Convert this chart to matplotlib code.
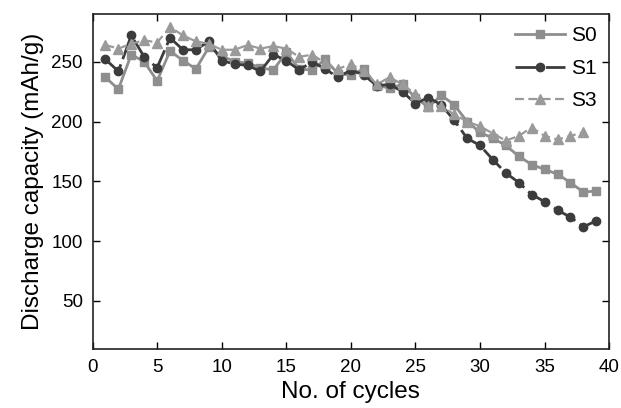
import matplotlib.pyplot as plt

cycles = list(range(1, 40))
cycles_s3 = list(range(1, 39))

s0 = [237, 227, 256, 250, 234, 259, 251, 244, 262, 255,
      250, 249, 245, 243, 258, 244, 243, 252, 240, 239,
      244, 230, 228, 231, 220, 212, 222, 214, 200, 191,
      186, 180, 171, 164, 160, 156, 149, 141, 142]
s1 = [252, 242, 272, 254, 245, 270, 260, 260, 267, 251,
      248, 247, 242, 256, 251, 243, 250, 244, 237, 243,
      239, 230, 231, 225, 215, 220, 214, 201, 186, 180,
      168, 157, 149, 139, 133, 126, 120, 112, 117]
s3 = [264, 261, 265, 268, 266, 279, 272, 267, 265, 260,
      260, 264, 261, 263, 261, 254, 256, 249, 244, 248,
      242, 231, 237, 231, 223, 213, 213, 206, 200, 196,
      190, 184, 188, 195, 188, 185, 188, 191]

plt.rcParams["font.family"] = ["Liberation Sans", "DejaVu Sans"]

fig = plt.figure(figsize=(6.21, 4.08), dpi=100)
ax = fig.add_axes([0.149, 0.145, 0.832, 0.821])

ax.plot(cycles, s0, color="#8e8e8e", linewidth=2, marker="s", markersize=6,
        label="S0")
ax.plot(cycles, s1, color="#3c3c3c", linewidth=2, marker="o", markersize=6,
        dashes=(9, 2), label="S1")
ax.plot(cycles_s3, s3, color="#9a9a9a", linewidth=1.6, marker="^", markersize=7,
        dashes=(4, 2), label="S3")

ax.set_xlim(0, 40)
ax.set_ylim(10, 290)
ax.set_xticks(range(0, 41, 5))
ax.set_yticks([50, 100, 150, 200, 250])
ax.tick_params(direction="in", top=True, right=True, length=5, width=1,
               labelsize=13.5, pad=7)
for spine in ax.spines.values():
    spine.set_linewidth(1.2)
    spine.set_color("#222222")

ax.set_xlabel("No. of cycles", fontsize=17.5, labelpad=4)
ax.set_ylabel("Discharge capacity (mAh/g)", fontsize=17.5, labelpad=5)

ax.legend(loc="upper right", frameon=False, fontsize=15, handlelength=2.4,
          handletextpad=0.3, labelspacing=0.65, borderaxespad=0.2)

fig.savefig("out.png", dpi=100)
